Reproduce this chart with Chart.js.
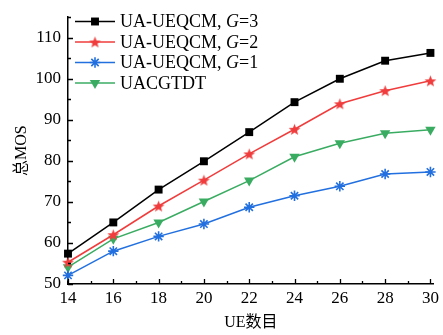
<!DOCTYPE html>
<html>
<head>
<meta charset="utf-8">
<script src="https://cdn.jsdelivr.net/npm/chart.js@4/dist/chart.umd.min.js"></script>
<style>
  html, body { margin: 0; padding: 0; background: #fff; }
  #wrap { width: 443px; height: 335px; }
</style>
</head>
<body>
<div id="wrap"><canvas id="c" width="443" height="335"></canvas></div>
<script>
// Number of UEs on the x axis
const ueCounts = [14, 16, 18, 20, 22, 24, 26, 28, 30];

// Total MOS per scheme
const mosG3 = [57.4, 65.0, 73.0, 79.9, 87.0, 94.3, 100.0, 104.4, 106.3];
const mosG2 = [55.3, 62.0, 69.0, 75.3, 81.7, 87.7, 93.9, 97.1, 99.5];
const mosG1 = [52.1, 58.0, 61.6, 64.6, 68.7, 71.5, 73.8, 76.8, 77.3];
const mosUACGTDT = [54.1, 61.0, 65.0, 70.1, 75.2, 81.0, 84.3, 86.7, 87.6];

// Tick labels
const xTicks = [14, 16, 18, 20, 22, 24, 26, 28, 30];
const yTicks = [50, 60, 70, 80, 90, 100, 110];

const FONT = '"Liberation Serif", "Times New Roman", "Noto Sans CJK SC", serif';
const RED = '#f03c3c';
const BLUE = '#2270e0';
const GREEN = '#3aac62';

// Filled five-pointed star used as the G=2 marker
function makeStar(color, outer, inner) {
  const size = Math.ceil(outer * 2 + 2);
  const cv = document.createElement('canvas');
  cv.width = size; cv.height = size;
  const g = cv.getContext('2d');
  g.translate(size / 2, size / 2 + 0.6);
  g.beginPath();
  for (let i = 0; i < 10; i++) {
    const r = i % 2 === 0 ? outer : inner;
    const a = -Math.PI / 2 + i * Math.PI / 5;
    g.lineTo(r * Math.cos(a), r * Math.sin(a));
  }
  g.closePath();
  g.fillStyle = color;
  g.fill();
  return cv;
}
const redStar = makeStar(RED, 6.2, 2.6);

const pts = arr => ueCounts.map((x, i) => ({ x: x, y: arr[i] }));

const datasets = [
  { label: 'UA-UEQCM, |G|=3', data: pts(mosG3), borderColor: '#000', backgroundColor: '#000',
    pointStyle: 'rect', pointRadius: 5.6, pointBorderWidth: 0 },
  { label: 'UA-UEQCM, |G|=2', data: pts(mosG2), borderColor: RED, backgroundColor: RED,
    pointStyle: redStar, pointRadius: 6 },
  { label: 'UA-UEQCM, |G|=1', data: pts(mosG1), borderColor: BLUE, backgroundColor: BLUE,
    pointStyle: 'star', pointRadius: 5.2, pointBorderWidth: 1.6 },
  { label: 'UACGTDT', data: pts(mosUACGTDT), borderColor: GREEN, backgroundColor: GREEN,
    pointStyle: 'triangle', pointRotation: 180, pointRadius: 6, pointBorderWidth: 0 }
].map(d => Object.assign({ borderWidth: 1.5, tension: 0, clip: false }, d));

// Inward major and minor tick marks on both axes
const inwardTicks = {
  id: 'inwardTicks',
  afterDraw(chart) {
    const ctx = chart.ctx;
    const xs = chart.scales.x, ys = chart.scales.y;
    const a = chart.chartArea;
    ctx.save();
    ctx.strokeStyle = '#000';
    ctx.lineWidth = 1.3;
    ctx.beginPath();
    for (let v = 14; v <= 30; v += 1) {
      const px = Math.round(xs.getPixelForValue(v)) + 0.5;
      const len = v % 2 === 0 ? 5 : 3;
      ctx.moveTo(px, a.bottom);
      ctx.lineTo(px, a.bottom - len);
    }
    for (let v = 50; v <= 115; v += 5) {
      const py = Math.round(ys.getPixelForValue(v)) + 0.5;
      const len = v % 10 === 0 ? 5 : 3;
      ctx.moveTo(a.left, py);
      ctx.lineTo(a.left + len, py);
    }
    ctx.stroke();
    ctx.restore();
  }
};

// Legend with line + marker samples and an italic G
const lineLegend = {
  id: 'lineLegend',
  afterDraw(chart) {
    const ctx = chart.ctx;
    const x0 = 75, x1 = 115, tx = 120, y0 = 21.5, dy = 20.5;
    ctx.save();
    chart.data.datasets.forEach((ds, i) => {
      const y = y0 + i * dy;
      ctx.strokeStyle = ds.borderColor;
      ctx.lineWidth = 1.5;
      ctx.beginPath();
      ctx.moveTo(x0, y); ctx.lineTo(x1, y);
      ctx.stroke();
      ctx.fillStyle = ds.backgroundColor;
      ctx.strokeStyle = ds.borderColor;
      ctx.lineWidth = ds.pointBorderWidth || 1.5;
      Chart.helpers.drawPoint(ctx, {
        pointStyle: ds.pointStyle, radius: ds.pointRadius,
        rotation: ds.pointRotation || 0, borderWidth: ds.pointBorderWidth || 0
      }, (x0 + x1) / 2, y);
      ctx.fillStyle = '#000';
      ctx.textBaseline = 'middle';
      let x = tx;
      ds.label.split('|').forEach((part, k) => {
        ctx.font = (k === 1 ? 'italic ' : '') + '18px ' + FONT;
        ctx.fillText(part, x, y + 1);
        x += ctx.measureText(part).width;
      });
    });
    ctx.restore();
  }
};

new Chart(document.getElementById('c'), {
  type: 'line',
  data: { datasets: datasets },
  plugins: [inwardTicks, lineLegend],
  options: {
    responsive: false,
    animation: false,
    layout: { padding: { top: 6, right: 6, left: 0, bottom: 0 } },
    plugins: { legend: { display: false }, tooltip: { enabled: false } },
    scales: {
      x: {
        type: 'linear', min: 14, max: 30.15,
        afterFit(s) { s.height = 51; },
        afterBuildTicks(s) { s.ticks = xTicks.map(v => ({ value: v })); },
        grid: { display: false, drawTicks: false },
        border: { display: true, color: '#000', width: 1.5 },
        ticks: { padding: 4, color: '#000', font: { family: FONT, size: 17 } },
        title: { display: true, text: 'UE数目', color: '#000', font: { family: FONT, size: 16 },
                 padding: { top: 0, bottom: 3 } }
      },
      y: {
        type: 'linear', min: 50, max: 115,
        afterFit(s) { s.width = 68; },
        afterBuildTicks(s) { s.ticks = yTicks.map(v => ({ value: v })); },
        grid: { display: false, drawTicks: false },
        border: { display: true, color: '#000', width: 1.5 },
        ticks: { padding: 7, color: '#000', font: { family: FONT, size: 17 } },
        title: { display: true, text: '总MOS', color: '#000', font: { family: FONT, size: 16 },
                 padding: { top: 12, bottom: 0 } }
      }
    }
  }
});
</script>
</body>
</html>
